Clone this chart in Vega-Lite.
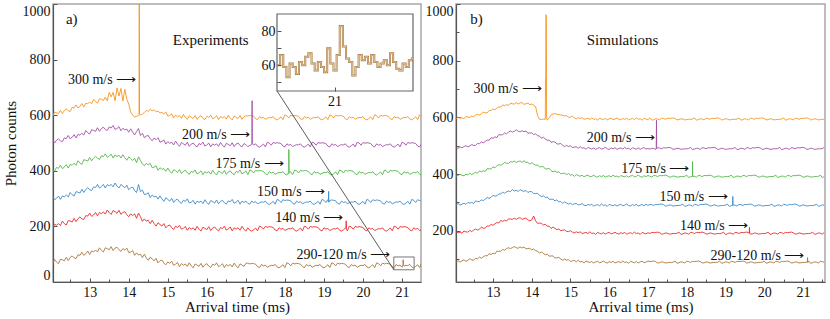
{
"$schema": "https://vega.github.io/schema/vega-lite/v6.json",
"background": "white",
"padding": {"left": 2, "top": 2, "right": 2, "bottom": 0},
"spacing": 2,
"config": {
  "font": "Liberation Serif",
  "view": {"stroke": "#a8a8a8", "strokeWidth": 1.5},
  "axis": {"labelFont": "Liberation Serif", "titleFont": "Liberation Serif", "labelFontSize": 14, "titleFontSize": 15, "titleFontWeight": "normal", "labelColor": "#111", "titleColor": "#111", "domainColor": "#555", "domainWidth": 1.2, "tickColor": "#555", "tickSize": -4, "labelPadding": 7, "grid": false, "labelOverlap": false},
  "text": {"font": "Liberation Serif", "fontSize": 14, "color": "#111"}
},
"datasets": {
  "d": [
{"t":12.05,"a1":596,"a2":512,"a3":402,"a4":308,"a5":195,"a6":65,"b1":594,"b2":493,"b3":392,"b4":291,"b5":197,"b6":89},
{"t":12.1,"a1":611,"a2":500,"a3":399,"a4":296,"a5":208,"a6":81,"b1":601,"b2":491,"b3":395,"b4":296,"b5":193,"b6":94},
{"t":12.15,"a1":609,"a2":510,"a3":412,"a4":301,"a5":204,"a6":72,"b1":596,"b2":496,"b3":399,"b4":290,"b5":195,"b6":89},
{"t":12.2,"a1":605,"a2":515,"a3":409,"a4":309,"a5":210,"a6":66,"b1":599,"b2":492,"b3":395,"b4":294,"b5":191,"b6":94},
{"t":12.25,"a1":618,"a2":508,"a3":420,"a4":297,"a5":203,"a6":82,"b1":595,"b2":497,"b3":394,"b4":297,"b5":199,"b6":97},
{"t":12.3,"a1":606,"a2":505,"a3":408,"a4":310,"a5":219,"a6":80,"b1":603,"b2":500,"b3":399,"b4":293,"b5":196,"b6":92},
{"t":12.35,"a1":617,"a2":518,"a3":413,"a4":306,"a5":210,"a6":76,"b1":601,"b2":496,"b3":397,"b4":300,"b5":195,"b6":95},
{"t":12.4,"a1":623,"a2":516,"a3":422,"a4":313,"a5":205,"a6":89,"b1":600,"b2":499,"b3":403,"b4":297,"b5":201,"b6":101},
{"t":12.45,"a1":616,"a2":527,"a3":410,"a4":306,"a5":221,"a6":77,"b1":605,"b2":504,"b3":398,"b4":300,"b5":197,"b6":97},
{"t":12.5,"a1":613,"a2":515,"a3":423,"a4":322,"a5":219,"a6":88,"b1":602,"b2":501,"b3":402,"b4":296,"b5":202,"b6":96},
{"t":12.55,"a1":628,"a2":521,"a3":420,"a4":314,"a5":216,"a6":94,"b1":608,"b2":501,"b3":406,"b4":305,"b5":206,"b6":103},
{"t":12.6,"a1":626,"a2":530,"a3":427,"a4":309,"a5":229,"a6":87,"b1":611,"b2":508,"b3":403,"b4":303,"b5":202,"b6":101},
{"t":12.65,"a1":637,"a2":518,"a3":420,"a4":325,"a5":217,"a6":84,"b1":608,"b2":507,"b3":411,"b4":303,"b5":206,"b6":107},
{"t":12.7,"a1":626,"a2":531,"a3":436,"a4":323,"a5":228,"a6":98,"b1":612,"b2":513,"b3":408,"b4":309,"b5":212,"b6":103},
{"t":12.75,"a1":632,"a2":528,"a3":428,"a4":320,"a5":234,"a6":96,"b1":619,"b2":510,"b3":412,"b4":306,"b5":209,"b6":108},
{"t":12.8,"a1":642,"a2":535,"a3":423,"a4":333,"a5":227,"a6":107,"b1":616,"b2":515,"b3":409,"b4":312,"b5":209,"b6":112},
{"t":12.85,"a1":630,"a2":529,"a3":440,"a4":322,"a5":225,"a6":96,"b1":616,"b2":520,"b3":419,"b4":317,"b5":217,"b6":111},
{"t":12.9,"a1":643,"a2":545,"a3":438,"a4":333,"a5":239,"a6":102,"b1":624,"b2":519,"b3":418,"b4":314,"b5":216,"b6":119},
{"t":12.95,"a1":641,"a2":537,"a3":435,"a4":339,"a5":237,"a6":111,"b1":624,"b2":528,"b3":418,"b4":318,"b5":222,"b6":116},
{"t":13.0,"a1":648,"a2":532,"a3":448,"a4":332,"a5":248,"a6":99,"b1":630,"b2":526,"b3":425,"b4":325,"b5":219,"b6":121},
{"t":13.05,"a1":641,"a2":548,"a3":436,"a4":329,"a5":236,"a6":112,"b1":627,"b2":531,"b3":422,"b4":322,"b5":224,"b6":118},
{"t":13.1,"a1":657,"a2":545,"a3":446,"a4":342,"a5":241,"a6":108,"b1":633,"b2":529,"b3":429,"b4":323,"b5":229,"b6":128},
{"t":13.15,"a1":649,"a2":542,"a3":452,"a4":340,"a5":250,"a6":115,"b1":637,"b2":539,"b3":433,"b4":330,"b5":227,"b6":127},
{"t":13.2,"a1":644,"a2":555,"a3":445,"a4":351,"a5":238,"a6":108,"b1":636,"b2":538,"b3":431,"b4":330,"b5":236,"b6":128},
{"t":13.25,"a1":659,"a2":542,"a3":441,"a4":338,"a5":250,"a6":123,"b1":644,"b2":539,"b3":435,"b4":336,"b5":233,"b6":134},
{"t":13.3,"a1":657,"a2":552,"a3":454,"a4":343,"a5":246,"a6":114,"b1":641,"b2":545,"b3":441,"b4":332,"b5":237,"b6":131},
{"t":13.35,"a1":653,"a2":557,"a3":451,"a4":351,"a5":252,"a6":108,"b1":645,"b2":542,"b3":438,"b4":337,"b5":234,"b6":137},
{"t":13.4,"a1":665,"a2":549,"a3":461,"a4":338,"a5":244,"a6":123,"b1":642,"b2":548,"b3":437,"b4":340,"b5":242,"b6":140},
{"t":13.45,"a1":652,"a2":545,"a3":448,"a4":350,"a5":259,"a6":120,"b1":650,"b2":552,"b3":444,"b4":338,"b5":241,"b6":137},
{"t":13.5,"a1":682,"a2":558,"a3":453,"a4":346,"a5":250,"a6":116,"b1":648,"b2":548,"b3":442,"b4":345,"b5":240,"b6":140},
{"t":13.55,"a1":666,"a2":554,"a3":460,"a4":351,"a5":243,"a6":127,"b1":647,"b2":551,"b3":446,"b4":340,"b5":244,"b6":144},
{"t":13.6,"a1":682,"a2":563,"a3":446,"a4":342,"a5":257,"a6":113,"b1":652,"b2":556,"b3":441,"b4":343,"b5":240,"b6":140},
{"t":13.65,"a1":652,"a2":549,"a3":457,"a4":356,"a5":253,"a6":122,"b1":647,"b2":551,"b3":444,"b4":338,"b5":244,"b6":138},
{"t":13.7,"a1":698,"a2":552,"a3":451,"a4":345,"a5":247,"a6":125,"b1":651,"b2":549,"b3":446,"b4":345,"b5":246,"b6":143},
{"t":13.75,"a1":669,"a2":559,"a3":456,"a4":338,"a5":258,"a6":116,"b1":652,"b2":553,"b3":441,"b4":341,"b5":240,"b6":139},
{"t":13.8,"a1":696,"a2":544,"a3":446,"a4":351,"a5":243,"a6":110,"b1":646,"b2":549,"b3":447,"b4":339,"b5":242,"b6":143},
{"t":13.85,"a1":651,"a2":553,"a3":458,"a4":345,"a5":250,"a6":120,"b1":648,"b2":552,"b3":441,"b4":342,"b5":245,"b6":136},
{"t":13.9,"a1":693,"a2":547,"a3":447,"a4":339,"a5":253,"a6":115,"b1":650,"b2":544,"b3":441,"b4":335,"b5":238,"b6":137},
{"t":13.95,"a1":658,"a2":550,"a3":438,"a4":348,"a5":242,"a6":122,"b1":645,"b2":545,"b3":435,"b4":338,"b5":235,"b6":138},
{"t":14.0,"a1":640,"a2":539,"a3":450,"a4":332,"a5":235,"a6":106,"b1":647,"b2":545,"b3":440,"b4":338,"b5":238,"b6":132},
{"t":14.05,"a1":612,"a2":551,"a3":444,"a4":339,"a5":245,"a6":108,"b1":643,"b2":539,"b3":435,"b4":331,"b5":252,"b6":136},
{"t":14.1,"a1":600,"a2":539,"a3":437,"a4":341,"a5":239,"a6":113,"b1":638,"b2":542,"b3":431,"b4":331,"b5":235,"b6":129},
{"t":14.15,"a1":594,"a2":529,"a3":445,"a4":329,"a5":245,"a6":96,"b1":606,"b2":535,"b3":432,"b4":332,"b5":226,"b6":128},
{"t":14.2,"a1":596,"a2":541,"a3":429,"a4":322,"a5":229,"a6":105,"b1":593,"b2":534,"b3":425,"b4":325,"b5":227,"b6":121},
{"t":14.25,"a1":598,"a2":552,"a3":450,"a4":351,"a5":248,"a6":97,"b1":592,"b2":526,"b3":426,"b4":320,"b5":226,"b6":125},
{"t":14.3,"a1":601,"a2":527,"a3":437,"a4":325,"a5":235,"a6":100,"b1":594,"b2":530,"b3":426,"b4":323,"b5":220,"b6":120},
{"t":14.35,"a1":604,"a2":535,"a3":425,"a4":331,"a5":218,"a6":88,"b1":593,"b2":524,"b3":418,"b4":317,"b5":223,"b6":115},
{"t":14.4,"a1":610,"a2":519,"a3":418,"a4":315,"a5":227,"a6":100,"b1":590,"b2":519,"b3":418,"b4":319,"b5":216,"b6":117},
{"t":14.45,"a1":617,"a2":525,"a3":427,"a4":316,"a5":219,"a6":87,"b1":598,"b2":520,"b3":420,"b4":311,"b5":216,"b6":110},
{"t":14.5,"a1":614,"a2":527,"a3":421,"a4":321,"a5":222,"a6":78,"b1":609,"b2":512,"b3":412,"b4":311,"b5":208,"b6":111},
{"t":14.55,"a1":621,"a2":515,"a3":427,"a4":304,"a5":210,"a6":89,"b1":612,"b2":514,"b3":408,"b4":311,"b5":213,"b6":111},
{"t":14.6,"a1":616,"a2":508,"a3":411,"a4":313,"a5":222,"a6":83,"b1":613,"b2":513,"b3":411,"b4":305,"b5":208,"b6":104},
{"t":14.65,"a1":619,"a2":518,"a3":413,"a4":306,"a5":210,"a6":76,"b1":611,"b2":506,"b3":406,"b4":309,"b5":204,"b6":104},
{"t":14.7,"a1":612,"a2":512,"a3":418,"a4":309,"a5":201,"a6":85,"b1":610,"b2":506,"b3":408,"b4":302,"b5":206,"b6":106},
{"t":14.75,"a1":615,"a2":519,"a3":402,"a4":298,"a5":213,"a6":69,"b1":608,"b2":508,"b3":401,"b4":303,"b5":200,"b6":100},
{"t":14.8,"a1":608,"a2":503,"a3":411,"a4":310,"a5":207,"a6":76,"b1":607,"b2":501,"b3":402,"b4":296,"b5":202,"b6":96},
{"t":14.85,"a1":610,"a2":506,"a3":405,"a4":299,"a5":201,"a6":79,"b1":605,"b2":497,"b3":403,"b4":302,"b5":203,"b6":100},
{"t":14.9,"a1":604,"a2":511,"a3":408,"a4":290,"a5":210,"a6":68,"b1":606,"b2":501,"b3":398,"b4":298,"b5":197,"b6":96},
{"t":14.95,"a1":612,"a2":496,"a3":398,"a4":303,"a5":195,"a6":62,"b1":600,"b2":497,"b3":402,"b4":294,"b5":197,"b6":98},
{"t":15.0,"a1":597,"a2":505,"a3":410,"a4":297,"a5":202,"a6":72,"b1":601,"b2":500,"b3":396,"b4":297,"b5":200,"b6":91},
{"t":15.05,"a1":599,"a2":499,"a3":399,"a4":291,"a5":205,"a6":67,"b1":604,"b2":493,"b3":398,"b4":292,"b5":195,"b6":94},
{"t":15.1,"a1":605,"a2":503,"a3":391,"a4":301,"a5":195,"a6":75,"b1":598,"b2":495,"b3":392,"b4":295,"b5":192,"b6":95},
{"t":15.15,"a1":590,"a2":493,"a3":404,"a4":286,"a5":189,"a6":60,"b1":595,"b2":496,"b3":398,"b4":296,"b5":196,"b6":90},
{"t":15.2,"a1":600,"a2":507,"a3":400,"a4":295,"a5":201,"a6":64,"b1":599,"b2":491,"b3":395,"b4":291,"b5":193,"b6":96},
{"t":15.25,"a1":594,"a2":496,"a3":394,"a4":298,"a5":196,"a6":70,"b1":596,"b2":497,"b3":392,"b4":292,"b5":196,"b6":90},
{"t":15.3,"a1":599,"a2":488,"a3":404,"a4":288,"a5":204,"a6":55,"b1":599,"b2":491,"b3":396,"b4":296,"b5":190,"b6":92},
{"t":15.35,"a1":589,"a2":502,"a3":390,"a4":283,"a5":190,"a6":66,"b1":593,"b2":493,"b3":390,"b4":290,"b5":192,"b6":86},
{"t":15.4,"a1":603,"a2":497,"a3":398,"a4":294,"a5":193,"a6":60,"b1":595,"b2":487,"b3":394,"b4":288,"b5":194,"b6":93},
{"t":15.45,"a1":592,"a2":492,"a3":402,"a4":290,"a5":200,"a6":65,"b1":597,"b2":494,"b3":396,"b4":293,"b5":190,"b6":90},
{"t":15.5,"a1":585,"a2":503,"a3":393,"a4":299,"a5":186,"a6":56,"b1":592,"b2":491,"b3":391,"b4":290,"b5":196,"b6":88},
{"t":15.55,"a1":598,"a2":488,"a3":387,"a4":284,"a5":196,"a6":69,"b1":598,"b2":488,"b3":392,"b4":293,"b5":190,"b6":91},
{"t":15.6,"a1":593,"a2":496,"a3":398,"a4":287,"a5":190,"a6":58,"b1":593,"b2":492,"b3":396,"b4":287,"b5":192,"b6":86},
{"t":15.65,"a1":588,"a2":500,"a3":394,"a4":294,"a5":195,"a6":51,"b1":595,"b2":487,"b3":391,"b4":290,"b5":187,"b6":90},
{"t":15.7,"a1":599,"a2":491,"a3":403,"a4":280,"a5":186,"a6":65,"b1":590,"b2":491,"b3":389,"b4":292,"b5":194,"b6":92},
{"t":15.75,"a1":585,"a2":486,"a3":389,"a4":291,"a5":200,"a6":61,"b1":597,"b2":493,"b3":394,"b4":288,"b5":191,"b6":87},
{"t":15.8,"a1":594,"a2":498,"a3":393,"a4":286,"a5":190,"a6":56,"b1":594,"b2":488,"b3":391,"b4":294,"b5":189,"b6":89},
{"t":15.85,"a1":598,"a2":494,"a3":400,"a4":291,"a5":183,"a6":67,"b1":592,"b2":490,"b3":395,"b4":289,"b5":193,"b6":93},
{"t":15.9,"a1":589,"a2":503,"a3":386,"a4":282,"a5":197,"a6":53,"b1":596,"b2":494,"b3":389,"b4":291,"b5":188,"b6":88},
{"t":15.95,"a1":584,"a2":489,"a3":397,"a4":296,"a5":193,"a6":62,"b1":591,"b2":489,"b3":392,"b4":286,"b5":192,"b6":86},
{"t":16.0,"a1":596,"a2":493,"a3":392,"a4":286,"a5":188,"a6":66,"b1":595,"b2":487,"b3":394,"b4":293,"b5":194,"b6":91},
{"t":16.05,"a1":592,"a2":500,"a3":397,"a4":279,"a5":199,"a6":57,"b1":597,"b2":492,"b3":390,"b4":290,"b5":189,"b6":88},
{"t":16.1,"a1":601,"a2":486,"a3":388,"a4":293,"a5":185,"a6":52,"b1":592,"b2":489,"b3":396,"b4":288,"b5":191,"b6":92},
{"t":16.15,"a1":587,"a2":497,"a3":402,"a4":289,"a5":194,"a6":64,"b1":594,"b2":493,"b3":391,"b4":292,"b5":195,"b6":86},
{"t":16.2,"a1":591,"a2":492,"a3":392,"a4":284,"a5":198,"a6":60,"b1":598,"b2":487,"b3":393,"b4":287,"b5":190,"b6":89},
{"t":16.25,"a1":598,"a2":497,"a3":385,"a4":295,"a5":189,"a6":69,"b1":593,"b2":490,"b3":388,"b4":291,"b5":188,"b6":91},
{"t":16.3,"a1":584,"a2":488,"a3":399,"a4":281,"a5":184,"a6":55,"b1":591,"b2":492,"b3":395,"b4":293,"b5":193,"b6":87},
{"t":16.35,"a1":595,"a2":502,"a3":395,"a4":290,"a5":196,"a6":59,"b1":596,"b2":488,"b3":392,"b4":288,"b5":190,"b6":93},
{"t":16.4,"a1":590,"a2":492,"a3":390,"a4":294,"a5":192,"a6":66,"b1":593,"b2":494,"b3":390,"b4":290,"b5":194,"b6":88},
{"t":16.45,"a1":595,"a2":485,"a3":401,"a4":285,"a5":201,"a6":52,"b1":597,"b2":489,"b3":394,"b4":294,"b5":188,"b6":90},
{"t":16.5,"a1":586,"a2":499,"a3":387,"a4":280,"a5":187,"a6":63,"b1":591,"b2":491,"b3":389,"b4":289,"b5":191,"b6":85},
{"t":16.55,"a1":600,"a2":495,"a3":396,"a4":292,"a5":191,"a6":58,"b1":594,"b2":486,"b3":393,"b4":287,"b5":193,"b6":92},
{"t":16.6,"a1":590,"a2":490,"a3":400,"a4":288,"a5":198,"a6":63,"b1":596,"b2":493,"b3":395,"b4":292,"b5":189,"b6":89},
{"t":16.65,"a1":583,"a2":501,"a3":391,"a4":297,"a5":184,"a6":54,"b1":592,"b2":490,"b3":390,"b4":289,"b5":195,"b6":87},
{"t":16.7,"a1":597,"a2":487,"a3":386,"a4":283,"a5":195,"a6":68,"b1":598,"b2":488,"b3":392,"b4":293,"b5":190,"b6":91},
{"t":16.75,"a1":593,"a2":496,"a3":398,"a4":287,"a5":190,"a6":58,"b1":593,"b2":492,"b3":396,"b4":287,"b5":192,"b6":86},
{"t":16.8,"a1":588,"a2":500,"a3":394,"a4":294,"a5":195,"a6":51,"b1":595,"b2":487,"b3":391,"b4":290,"b5":187,"b6":90},
{"t":16.85,"a1":599,"a2":491,"a3":403,"a4":280,"a5":186,"a6":65,"b1":590,"b2":491,"b3":389,"b4":292,"b5":194,"b6":92},
{"t":16.9,"a1":585,"a2":486,"a3":389,"a4":291,"a5":200,"a6":61,"b1":597,"b2":493,"b3":394,"b4":288,"b5":191,"b6":87},
{"t":16.95,"a1":594,"a2":498,"a3":393,"a4":286,"a5":190,"a6":56,"b1":594,"b2":488,"b3":391,"b4":294,"b5":189,"b6":89},
{"t":17.0,"a1":598,"a2":494,"a3":400,"a4":291,"a5":183,"a6":67,"b1":592,"b2":490,"b3":395,"b4":289,"b5":193,"b6":93},
{"t":17.05,"a1":597,"a2":487,"a3":386,"a4":283,"a5":195,"a6":68,"b1":598,"b2":488,"b3":392,"b4":293,"b5":190,"b6":91},
{"t":17.1,"a1":599,"a2":491,"a3":403,"a4":280,"a5":186,"a6":65,"b1":590,"b2":491,"b3":389,"b4":292,"b5":194,"b6":92},
{"t":17.15,"a1":598,"a2":494,"a3":400,"a4":291,"a5":183,"a6":67,"b1":592,"b2":490,"b3":395,"b4":289,"b5":193,"b6":93},
{"t":17.2,"a1":596,"a2":493,"a3":392,"a4":286,"a5":188,"a6":66,"b1":595,"b2":487,"b3":394,"b4":293,"b5":194,"b6":91},
{"t":17.25,"a1":587,"a2":497,"a3":402,"a4":289,"a5":194,"a6":64,"b1":594,"b2":493,"b3":391,"b4":292,"b5":195,"b6":86},
{"t":17.3,"a1":584,"a2":488,"a3":399,"a4":281,"a5":184,"a6":55,"b1":591,"b2":492,"b3":395,"b4":293,"b5":193,"b6":87},
{"t":17.35,"a1":595,"a2":485,"a3":401,"a4":285,"a5":201,"a6":52,"b1":597,"b2":489,"b3":394,"b4":294,"b5":188,"b6":90},
{"t":17.4,"a1":590,"a2":490,"a3":400,"a4":288,"a5":198,"a6":63,"b1":596,"b2":493,"b3":395,"b4":292,"b5":189,"b6":89},
{"t":17.45,"a1":593,"a2":496,"a3":398,"a4":287,"a5":190,"a6":58,"b1":593,"b2":492,"b3":396,"b4":287,"b5":192,"b6":86},
{"t":17.5,"a1":585,"a2":486,"a3":389,"a4":291,"a5":200,"a6":61,"b1":597,"b2":493,"b3":394,"b4":288,"b5":191,"b6":87},
{"t":17.55,"a1":589,"a2":503,"a3":386,"a4":282,"a5":197,"a6":53,"b1":596,"b2":494,"b3":389,"b4":291,"b5":188,"b6":88},
{"t":17.6,"a1":592,"a2":500,"a3":397,"a4":279,"a5":199,"a6":57,"b1":597,"b2":492,"b3":390,"b4":290,"b5":189,"b6":88},
{"t":17.65,"a1":591,"a2":492,"a3":392,"a4":284,"a5":198,"a6":60,"b1":598,"b2":487,"b3":393,"b4":287,"b5":190,"b6":89},
{"t":17.7,"a1":595,"a2":502,"a3":395,"a4":290,"a5":196,"a6":59,"b1":596,"b2":488,"b3":392,"b4":288,"b5":190,"b6":93},
{"t":17.75,"a1":586,"a2":499,"a3":387,"a4":280,"a5":187,"a6":63,"b1":591,"b2":491,"b3":389,"b4":289,"b5":191,"b6":85},
{"t":17.8,"a1":583,"a2":501,"a3":391,"a4":297,"a5":184,"a6":54,"b1":592,"b2":490,"b3":390,"b4":289,"b5":195,"b6":87},
{"t":17.85,"a1":588,"a2":500,"a3":394,"a4":294,"a5":195,"a6":51,"b1":595,"b2":487,"b3":391,"b4":290,"b5":187,"b6":90},
{"t":17.9,"a1":594,"a2":498,"a3":393,"a4":286,"a5":190,"a6":56,"b1":594,"b2":488,"b3":391,"b4":294,"b5":189,"b6":89},
{"t":17.95,"a1":584,"a2":489,"a3":397,"a4":296,"a5":193,"a6":62,"b1":591,"b2":489,"b3":392,"b4":286,"b5":192,"b6":86},
{"t":18.0,"a1":601,"a2":486,"a3":388,"a4":293,"a5":185,"a6":52,"b1":592,"b2":489,"b3":396,"b4":288,"b5":191,"b6":92},
{"t":18.05,"a1":598,"a2":497,"a3":385,"a4":295,"a5":189,"a6":69,"b1":593,"b2":490,"b3":388,"b4":291,"b5":188,"b6":91},
{"t":18.1,"a1":590,"a2":492,"a3":390,"a4":294,"a5":192,"a6":66,"b1":593,"b2":494,"b3":390,"b4":290,"b5":194,"b6":88},
{"t":18.15,"a1":600,"a2":495,"a3":396,"a4":292,"a5":191,"a6":58,"b1":594,"b2":486,"b3":393,"b4":287,"b5":193,"b6":92},
{"t":18.2,"a1":597,"a2":487,"a3":386,"a4":283,"a5":195,"a6":68,"b1":598,"b2":488,"b3":392,"b4":293,"b5":190,"b6":91},
{"t":18.25,"a1":599,"a2":491,"a3":403,"a4":280,"a5":186,"a6":65,"b1":590,"b2":491,"b3":389,"b4":292,"b5":194,"b6":92},
{"t":18.3,"a1":598,"a2":494,"a3":400,"a4":291,"a5":183,"a6":67,"b1":592,"b2":490,"b3":395,"b4":289,"b5":193,"b6":93},
{"t":18.35,"a1":596,"a2":493,"a3":392,"a4":286,"a5":188,"a6":66,"b1":595,"b2":487,"b3":394,"b4":293,"b5":194,"b6":91},
{"t":18.4,"a1":587,"a2":497,"a3":402,"a4":289,"a5":194,"a6":64,"b1":594,"b2":493,"b3":391,"b4":292,"b5":195,"b6":86},
{"t":18.45,"a1":584,"a2":488,"a3":399,"a4":281,"a5":184,"a6":55,"b1":591,"b2":492,"b3":395,"b4":293,"b5":193,"b6":87},
{"t":18.5,"a1":595,"a2":485,"a3":401,"a4":285,"a5":201,"a6":52,"b1":597,"b2":489,"b3":394,"b4":294,"b5":188,"b6":90},
{"t":18.55,"a1":590,"a2":490,"a3":400,"a4":288,"a5":198,"a6":63,"b1":596,"b2":493,"b3":395,"b4":292,"b5":189,"b6":89},
{"t":18.6,"a1":593,"a2":496,"a3":398,"a4":287,"a5":190,"a6":58,"b1":593,"b2":492,"b3":396,"b4":287,"b5":192,"b6":86},
{"t":18.65,"a1":585,"a2":486,"a3":389,"a4":291,"a5":200,"a6":61,"b1":597,"b2":493,"b3":394,"b4":288,"b5":191,"b6":87},
{"t":18.7,"a1":589,"a2":503,"a3":386,"a4":282,"a5":197,"a6":53,"b1":596,"b2":494,"b3":389,"b4":291,"b5":188,"b6":88},
{"t":18.75,"a1":592,"a2":500,"a3":397,"a4":279,"a5":199,"a6":57,"b1":597,"b2":492,"b3":390,"b4":290,"b5":189,"b6":88},
{"t":18.8,"a1":591,"a2":492,"a3":392,"a4":284,"a5":198,"a6":60,"b1":598,"b2":487,"b3":393,"b4":287,"b5":190,"b6":89},
{"t":18.85,"a1":595,"a2":502,"a3":395,"a4":290,"a5":196,"a6":59,"b1":596,"b2":488,"b3":392,"b4":288,"b5":190,"b6":93},
{"t":18.9,"a1":586,"a2":499,"a3":387,"a4":280,"a5":187,"a6":63,"b1":591,"b2":491,"b3":389,"b4":289,"b5":191,"b6":85},
{"t":18.95,"a1":583,"a2":501,"a3":391,"a4":297,"a5":184,"a6":54,"b1":592,"b2":490,"b3":390,"b4":289,"b5":195,"b6":87},
{"t":19.0,"a1":588,"a2":500,"a3":394,"a4":294,"a5":195,"a6":51,"b1":595,"b2":487,"b3":391,"b4":290,"b5":187,"b6":90},
{"t":19.05,"a1":594,"a2":498,"a3":393,"a4":286,"a5":190,"a6":56,"b1":594,"b2":488,"b3":391,"b4":294,"b5":189,"b6":89},
{"t":19.1,"a1":584,"a2":489,"a3":397,"a4":296,"a5":193,"a6":62,"b1":591,"b2":489,"b3":392,"b4":286,"b5":192,"b6":86},
{"t":19.15,"a1":601,"a2":486,"a3":388,"a4":293,"a5":185,"a6":52,"b1":592,"b2":489,"b3":396,"b4":288,"b5":191,"b6":92},
{"t":19.2,"a1":598,"a2":497,"a3":385,"a4":295,"a5":189,"a6":69,"b1":593,"b2":490,"b3":388,"b4":291,"b5":188,"b6":91},
{"t":19.25,"a1":590,"a2":492,"a3":390,"a4":294,"a5":192,"a6":66,"b1":593,"b2":494,"b3":390,"b4":290,"b5":194,"b6":88},
{"t":19.3,"a1":600,"a2":495,"a3":396,"a4":292,"a5":191,"a6":58,"b1":594,"b2":486,"b3":393,"b4":287,"b5":193,"b6":92},
{"t":19.35,"a1":597,"a2":487,"a3":386,"a4":283,"a5":195,"a6":68,"b1":598,"b2":488,"b3":392,"b4":293,"b5":190,"b6":91},
{"t":19.4,"a1":599,"a2":491,"a3":403,"a4":280,"a5":186,"a6":65,"b1":590,"b2":491,"b3":389,"b4":292,"b5":194,"b6":92},
{"t":19.45,"a1":598,"a2":494,"a3":400,"a4":291,"a5":183,"a6":67,"b1":592,"b2":490,"b3":395,"b4":289,"b5":193,"b6":93},
{"t":19.5,"a1":596,"a2":493,"a3":392,"a4":286,"a5":188,"a6":66,"b1":595,"b2":487,"b3":394,"b4":293,"b5":194,"b6":91},
{"t":19.55,"a1":587,"a2":497,"a3":402,"a4":289,"a5":194,"a6":64,"b1":594,"b2":493,"b3":391,"b4":292,"b5":195,"b6":86},
{"t":19.6,"a1":584,"a2":488,"a3":399,"a4":281,"a5":184,"a6":55,"b1":591,"b2":492,"b3":395,"b4":293,"b5":193,"b6":87},
{"t":19.65,"a1":595,"a2":485,"a3":401,"a4":285,"a5":201,"a6":52,"b1":597,"b2":489,"b3":394,"b4":294,"b5":188,"b6":90},
{"t":19.7,"a1":590,"a2":490,"a3":400,"a4":288,"a5":198,"a6":63,"b1":596,"b2":493,"b3":395,"b4":292,"b5":189,"b6":89},
{"t":19.75,"a1":593,"a2":496,"a3":398,"a4":287,"a5":190,"a6":58,"b1":593,"b2":492,"b3":396,"b4":287,"b5":192,"b6":86},
{"t":19.8,"a1":585,"a2":486,"a3":389,"a4":291,"a5":200,"a6":61,"b1":597,"b2":493,"b3":394,"b4":288,"b5":191,"b6":87},
{"t":19.85,"a1":589,"a2":503,"a3":386,"a4":282,"a5":197,"a6":53,"b1":596,"b2":494,"b3":389,"b4":291,"b5":188,"b6":88},
{"t":19.9,"a1":592,"a2":500,"a3":397,"a4":279,"a5":199,"a6":57,"b1":597,"b2":492,"b3":390,"b4":290,"b5":189,"b6":88},
{"t":19.95,"a1":591,"a2":492,"a3":392,"a4":284,"a5":198,"a6":60,"b1":598,"b2":487,"b3":393,"b4":287,"b5":190,"b6":89},
{"t":20.0,"a1":595,"a2":502,"a3":395,"a4":290,"a5":196,"a6":59,"b1":596,"b2":488,"b3":392,"b4":288,"b5":190,"b6":93},
{"t":20.05,"a1":586,"a2":499,"a3":387,"a4":280,"a5":187,"a6":63,"b1":591,"b2":491,"b3":389,"b4":289,"b5":191,"b6":85},
{"t":20.1,"a1":583,"a2":501,"a3":391,"a4":297,"a5":184,"a6":54,"b1":592,"b2":490,"b3":390,"b4":289,"b5":195,"b6":87},
{"t":20.15,"a1":588,"a2":500,"a3":394,"a4":294,"a5":195,"a6":51,"b1":595,"b2":487,"b3":391,"b4":290,"b5":187,"b6":90},
{"t":20.2,"a1":594,"a2":498,"a3":393,"a4":286,"a5":190,"a6":56,"b1":594,"b2":488,"b3":391,"b4":294,"b5":189,"b6":89},
{"t":20.25,"a1":584,"a2":489,"a3":397,"a4":296,"a5":193,"a6":62,"b1":591,"b2":489,"b3":392,"b4":286,"b5":192,"b6":86},
{"t":20.3,"a1":601,"a2":486,"a3":388,"a4":293,"a5":185,"a6":52,"b1":592,"b2":489,"b3":396,"b4":288,"b5":191,"b6":92},
{"t":20.35,"a1":598,"a2":497,"a3":385,"a4":295,"a5":189,"a6":69,"b1":593,"b2":490,"b3":388,"b4":291,"b5":188,"b6":91},
{"t":20.4,"a1":590,"a2":492,"a3":390,"a4":294,"a5":192,"a6":66,"b1":593,"b2":494,"b3":390,"b4":290,"b5":194,"b6":88},
{"t":20.45,"a1":600,"a2":495,"a3":396,"a4":292,"a5":191,"a6":58,"b1":594,"b2":486,"b3":393,"b4":287,"b5":193,"b6":92},
{"t":20.5,"a1":597,"a2":487,"a3":386,"a4":283,"a5":195,"a6":68,"b1":598,"b2":488,"b3":392,"b4":293,"b5":190,"b6":91},
{"t":20.55,"a1":599,"a2":491,"a3":403,"a4":280,"a5":186,"a6":65,"b1":590,"b2":491,"b3":389,"b4":292,"b5":194,"b6":92},
{"t":20.6,"a1":598,"a2":494,"a3":400,"a4":291,"a5":183,"a6":67,"b1":592,"b2":490,"b3":395,"b4":289,"b5":193,"b6":93},
{"t":20.65,"a1":596,"a2":493,"a3":392,"a4":286,"a5":188,"a6":66,"b1":595,"b2":487,"b3":394,"b4":293,"b5":194,"b6":91},
{"t":20.7,"a1":587,"a2":497,"a3":402,"a4":289,"a5":194,"a6":64,"b1":594,"b2":493,"b3":391,"b4":292,"b5":195,"b6":86},
{"t":20.75,"a1":584,"a2":488,"a3":399,"a4":281,"a5":184,"a6":55,"b1":591,"b2":492,"b3":395,"b4":293,"b5":193,"b6":87},
{"t":20.8,"a1":595,"a2":485,"a3":401,"a4":285,"a5":201,"a6":52,"b1":597,"b2":489,"b3":394,"b4":294,"b5":188,"b6":90},
{"t":20.85,"a1":590,"a2":490,"a3":400,"a4":288,"a5":198,"a6":63,"b1":596,"b2":493,"b3":395,"b4":292,"b5":189,"b6":89},
{"t":20.9,"a1":593,"a2":496,"a3":398,"a4":287,"a5":190,"a6":58,"b1":593,"b2":492,"b3":396,"b4":287,"b5":192,"b6":86},
{"t":20.95,"a1":585,"a2":486,"a3":389,"a4":291,"a5":200,"a6":61,"b1":597,"b2":493,"b3":394,"b4":288,"b5":191,"b6":87},
{"t":21.0,"a1":589,"a2":503,"a3":386,"a4":282,"a5":197,"a6":53,"b1":596,"b2":494,"b3":389,"b4":291,"b5":188,"b6":88},
{"t":21.05,"a1":592,"a2":500,"a3":397,"a4":279,"a5":199,"a6":57,"b1":597,"b2":492,"b3":390,"b4":290,"b5":189,"b6":88},
{"t":21.1,"a1":591,"a2":492,"a3":392,"a4":284,"a5":198,"a6":60,"b1":598,"b2":487,"b3":393,"b4":287,"b5":190,"b6":89},
{"t":21.15,"a1":595,"a2":502,"a3":395,"a4":290,"a5":196,"a6":59,"b1":596,"b2":488,"b3":392,"b4":288,"b5":190,"b6":93},
{"t":21.2,"a1":586,"a2":499,"a3":387,"a4":280,"a5":187,"a6":63,"b1":591,"b2":491,"b3":389,"b4":289,"b5":191,"b6":85},
{"t":21.25,"a1":583,"a2":501,"a3":391,"a4":297,"a5":184,"a6":54,"b1":592,"b2":490,"b3":390,"b4":289,"b5":195,"b6":87},
{"t":21.3,"a1":588,"a2":500,"a3":394,"a4":294,"a5":195,"a6":51,"b1":595,"b2":487,"b3":391,"b4":290,"b5":187,"b6":90},
{"t":21.35,"a1":594,"a2":498,"a3":393,"a4":286,"a5":190,"a6":56,"b1":594,"b2":488,"b3":391,"b4":294,"b5":189,"b6":89},
{"t":21.4,"a1":584,"a2":489,"a3":397,"a4":296,"a5":193,"a6":62,"b1":591,"b2":489,"b3":392,"b4":286,"b5":192,"b6":86},
{"t":21.45,"a1":601,"a2":486,"a3":388,"a4":293,"a5":185,"a6":52,"b1":592,"b2":489,"b3":396,"b4":288,"b5":191,"b6":92},
{"t":21.5,"a1":598,"a2":497,"a3":385,"a4":295,"a5":189,"a6":69,"b1":593,"b2":490,"b3":388,"b4":291,"b5":188,"b6":91},
{"t":21.55,"a1":590,"a2":492,"a3":390,"a4":294,"a5":192,"a6":66,"b1":593,"b2":494,"b3":390,"b4":290,"b5":194,"b6":88},
{"t":14.264,"a1":600},{"t":14.27,"a1":1000},{"t":14.276,"a1":604},
{"t":17.154,"a2":495},{"t":17.16,"a2":652},{"t":17.166,"a2":497},
{"t":18.094,"a3":393},{"t":18.1,"a3":477},{"t":18.106,"a3":395},
{"t":19.114,"a4":289},{"t":19.12,"a4":326},{"t":19.126,"a4":287},
{"t":19.564,"a5":193},{"t":19.57,"a5":220},{"t":19.576,"a5":191},
{"t":21.024,"a6":62},{"t":21.03,"a6":80},{"t":21.036,"a6":63},
{"t":14.355,"b1":735},{"t":14.362,"b1":742},{"t":14.366,"b1":962},{"t":14.376,"b1":958},{"t":14.383,"b1":600},
{"t":17.214,"b2":491},{"t":17.22,"b2":590},{"t":17.226,"b2":489},
{"t":18.144,"b3":392},{"t":18.15,"b3":444},{"t":18.156,"b3":391},
{"t":19.184,"b4":290},{"t":19.19,"b4":321},{"t":19.196,"b4":289},
{"t":19.614,"b5":191},{"t":19.62,"b5":212},{"t":19.626,"b5":190},
{"t":21.114,"b6":89},{"t":21.12,"b6":105},{"t":21.126,"b6":88}
  ],
  "ins": [
{"t":20.78,"v":60},{"t":20.792,"v":66},{"t":20.804,"v":59},{"t":20.816,"v":53},{"t":20.828,"v":61},{"t":20.84,"v":59},{"t":20.852,"v":55},{"t":20.864,"v":62},{"t":20.876,"v":60},{"t":20.888,"v":65},{"t":20.9,"v":67},{"t":20.912,"v":61},{"t":20.924,"v":57},{"t":20.936,"v":62},{"t":20.948,"v":59},{"t":20.96,"v":56},{"t":20.972,"v":70},{"t":20.984,"v":61},{"t":20.996,"v":57},{"t":21.008,"v":66},{"t":21.02,"v":83},{"t":21.032,"v":71},{"t":21.044,"v":64},{"t":21.056,"v":62},{"t":21.068,"v":54},{"t":21.08,"v":59},{"t":21.092,"v":66},{"t":21.104,"v":63},{"t":21.116,"v":65},{"t":21.128,"v":61},{"t":21.14,"v":66},{"t":21.152,"v":62},{"t":21.164,"v":59},{"t":21.176,"v":61},{"t":21.188,"v":63},{"t":21.2,"v":60},{"t":21.212,"v":67},{"t":21.224,"v":62},{"t":21.236,"v":58},{"t":21.248,"v":57},{"t":21.26,"v":61},{"t":21.272,"v":59},{"t":21.284,"v":63},{"t":21.296,"v":64},{"t":21.3,"v":64}
  ],
  "annA": [
{"t":14.19,"v":725,"s":"300 m/s ⟶"},
{"t":17.11,"v":528,"s":"200 m/s ⟶"},
{"t":17.97,"v":426,"s":"175 m/s ⟶"},
{"t":19.03,"v":324,"s":"150 m/s ⟶"},
{"t":19.5,"v":229,"s":"140 m/s ⟶"},
{"t":20.7,"v":96,"s":"290-120 m/s ⟶"}
  ],
  "labA": [{"t":12.39,"v":947,"s":"a)"},{"t":15.13,"v":869,"s":"Experiments"}],
  "annB": [
{"t":14.26,"v":699,"s":"300 m/s ⟶"},
{"t":17.18,"v":527,"s":"200 m/s ⟶"},
{"t":18.07,"v":418,"s":"175 m/s ⟶"},
{"t":19.06,"v":318,"s":"150 m/s ⟶"},
{"t":19.59,"v":218,"s":"140 m/s ⟶"},
{"t":21.04,"v":110,"s":"290-120 m/s ⟶"}
  ],
  "labB": [{"t":12.41,"v":948,"s":"b)"},{"t":15.42,"v":872,"s":"Simulations"}],
  "anchor": [{"t":13,"v":500}]
},
"hconcat": [
  {
    "width": 368, "height": 278,
    "layer": [
      {"layer": [
        {
          "data": {"name": "d"},
          "transform": [{"fold": ["a1","a2","a3","a4","a5","a6"], "as": ["k","v"]}, {"filter": "isValid(datum.v)"}],
          "mark": {"type": "line", "strokeWidth": 0.9, "clip": true},
          "encoding": {
            "x": {"field": "t", "type": "quantitative", "scale": {"domain": [12.06, 21.486], "nice": false, "zero": false},
                  "axis": {"title": "Arrival time (ms)", "values": [13,14,15,16,17,18,19,20,21], "format": "d", "titlePadding": 0, "labelFlush": false}},
            "y": {"field": "v", "type": "quantitative", "scale": {"domain": [0, 1000], "nice": false, "zero": false},
                  "axis": {"title": "Photon counts", "values": [0,100,200,300,400,500,600,700,800,900,1000], "labelExpr": "datum.value % 200 == 0 ? datum.label : ''", "format": "d", "labelFlush": true, "titlePadding": 4}},
            "color": {"field": "k", "type": "nominal", "scale": {"domain": ["a1","a2","a3","a4","a5","a6"], "range": ["#f7941d","#a350a6","#50b848","#3d8bc9","#ec2a2a","#a9773a"]}, "legend": null}
          }
        },
        {
          "data": {"name": "annA"},
          "mark": {"type": "text", "align": "right", "baseline": "middle", "fontSize": 14},
          "encoding": {"x": {"field": "t", "type": "quantitative"}, "y": {"field": "v", "type": "quantitative"}, "text": {"field": "s"}}
        },
        {
          "data": {"name": "labA"},
          "mark": {"type": "text", "align": "left", "baseline": "middle", "fontSize": 15},
          "encoding": {"x": {"field": "t", "type": "quantitative"}, "y": {"field": "v", "type": "quantitative"}, "text": {"field": "s"}}
        },
        {
          "data": {"values": [{"t": 20.79, "t2": 21.31, "v": 44, "v2": 90}]},
          "mark": {"type": "rect", "fillOpacity": 0, "stroke": "#777", "strokeWidth": 1},
          "encoding": {"x": {"field": "t", "type": "quantitative"}, "x2": {"field": "t2"}, "y": {"field": "v", "type": "quantitative"}, "y2": {"field": "v2"}}
        },
        {
          "data": {"values": [{"t": 17.798, "v": 687, "t2": 20.79, "v2": 44}]},
          "mark": {"type": "rule", "stroke": "#333", "strokeWidth": 0.8},
          "encoding": {"x": {"field": "t", "type": "quantitative"}, "x2": {"field": "t2"}, "y": {"field": "v", "type": "quantitative"}, "y2": {"field": "v2"}}
        }
      ]},
      {"layer": [
        {
          "data": {"values": [{"t": 20.78, "t2": 21.3, "v": 45, "v2": 90}]},
          "mark": {"type": "rect", "fill": "white", "stroke": "#666", "strokeWidth": 1.2},
          "encoding": {
            "x": {"field": "t", "type": "quantitative", "scale": {"domain": [20.78, 21.3], "range": [224, 360], "nice": false, "zero": false},
                  "axis": {"title": null, "orient": "bottom", "offset": -191, "values": [21], "format": "d", "domain": false, "zindex": 1, "labelFlush": false}},
            "x2": {"field": "t2"},
            "y": {"field": "v", "type": "quantitative", "scale": {"domain": [45, 90], "range": [87, 10], "nice": false, "zero": false},
                  "axis": {"title": null, "orient": "left", "offset": -224, "values": [50,60,70,80], "labelExpr": "datum.value % 20 == 0 ? datum.label : ''", "domain": false, "labelPadding": 6, "zindex": 1}},
            "y2": {"field": "v2"}
          }
        },
        {
          "data": {"name": "ins"},
          "mark": {"type": "line", "interpolate": "step-after", "stroke": "#a9773a", "strokeWidth": 2.0},
          "encoding": {"x": {"field": "t", "type": "quantitative"}, "y": {"field": "v", "type": "quantitative"}}
        },
        {
          "data": {"name": "ins"},
          "mark": {"type": "line", "interpolate": "step-after", "stroke": "#f0dfc6", "strokeWidth": 0.7},
          "encoding": {"x": {"field": "t", "type": "quantitative"}, "y": {"field": "v", "type": "quantitative"}}
        }
      ]},
      {
        "data": {"name": "anchor"},
        "mark": {"type": "point", "opacity": 0},
        "encoding": {
          "x": {"field": "t", "type": "quantitative", "scale": {"domain": [12.06, 21.486], "nice": false, "zero": false},
                "axis": {"title": null, "orient": "bottom", "values": [12.5,13.5,14.5,15.5,16.5,17.5,18.5,19.5,20.5], "labels": false, "domain": false, "tickSize": -3}},
          "y": {"field": "v", "type": "quantitative", "scale": {"domain": [0, 1000], "nice": false, "zero": false}, "axis": null}
        }
      }
    ],
    "resolve": {"scale": {"x": "independent", "y": "independent"}}
  },
  {
    "width": 369, "height": 278,
    "layer": [
      {"layer": [
        {
          "data": {"name": "d"},
          "transform": [{"fold": ["b1","b2","b3","b4","b5","b6"], "as": ["k","v"]}, {"filter": "isValid(datum.v)"}],
          "mark": {"type": "line", "strokeWidth": 0.9, "clip": true},
          "encoding": {
            "x": {"field": "t", "type": "quantitative", "scale": {"domain": [12.045, 21.57], "nice": false, "zero": false},
                  "axis": {"title": "Arrival time (ms)", "values": [13,14,15,16,17,18,19,20,21], "format": "d", "titlePadding": 0, "labelFlush": false}},
            "y": {"field": "v", "type": "quantitative", "scale": {"domain": [19, 1000], "nice": false, "zero": false},
                  "axis": {"title": null, "values": [200,400,600,800,1000], "format": "d", "labelFlush": true}},
            "color": {"field": "k", "type": "nominal", "scale": {"domain": ["b1","b2","b3","b4","b5","b6"], "range": ["#f7941d","#a350a6","#50b848","#3d8bc9","#ec2a2a","#a9773a"]}, "legend": null}
          }
        },
        {
          "data": {"name": "annB"},
          "mark": {"type": "text", "align": "right", "baseline": "middle", "fontSize": 14},
          "encoding": {"x": {"field": "t", "type": "quantitative"}, "y": {"field": "v", "type": "quantitative"}, "text": {"field": "s"}}
        },
        {
          "data": {"name": "labB"},
          "mark": {"type": "text", "align": "left", "baseline": "middle", "fontSize": 15},
          "encoding": {"x": {"field": "t", "type": "quantitative"}, "y": {"field": "v", "type": "quantitative"}, "text": {"field": "s"}}
        }
      ]},
      {
        "data": {"name": "anchor"},
        "mark": {"type": "point", "opacity": 0},
        "encoding": {
          "x": {"field": "t", "type": "quantitative", "scale": {"domain": [12.045, 21.57], "nice": false, "zero": false},
                "axis": {"title": null, "orient": "bottom", "values": [12.5,13.5,14.5,15.5,16.5,17.5,18.5,19.5,20.5,21.5], "labels": false, "domain": false, "tickSize": -3}},
          "y": {"field": "v", "type": "quantitative", "scale": {"domain": [19, 1000], "nice": false, "zero": false},
                "axis": {"title": null, "orient": "left", "values": [100,300,500,700,900], "labels": false, "domain": false, "tickSize": -3}}
        }
      }
    ],
    "resolve": {"scale": {"x": "independent", "y": "independent"}}
  }
]
}
